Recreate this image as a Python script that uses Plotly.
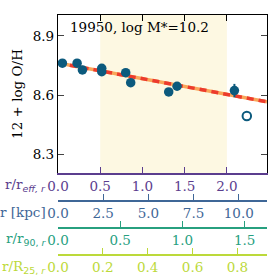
import plotly.graph_objects as go

# ---- data ----
r_reff = [0.052, 0.226, 0.289, 0.518, 0.518, 0.802, 0.861, 1.311, 1.410, 2.089]
oh = [8.762, 8.762, 8.728, 8.736, 8.719, 8.714, 8.663, 8.616, 8.645, 8.623]
oh_err = [0, 0, 0, 0, 0, 0, 0, 0, 0, 0.034]
open_r = [2.236]
open_oh = [8.494]
fit_intercept = 8.763
fit_slope = -0.0796
shade_range = [0.5, 2.0]
title_text = "19950, log M*=10.2"

x_max_reff = 2.475
x_max_kpc = 11.56
x_max_r90 = 1.68
x_max_r25 = 0.932
y_range = [8.205, 9.0065]

purple = "#5b3d8e"
blue = "#3f6797"
green = "#27a07f"
yellow = "#bcd93a"
point_col = "#0c5a7d"
font = "DejaVu Serif"
fs = 13.5

fig = go.Figure()

fit_x = [0, x_max_reff]
fit_y = [fit_intercept + fit_slope * v for v in fit_x]
fig.add_trace(go.Scatter(x=fit_x, y=fit_y, mode="lines",
                         line=dict(color="#f9a65a", width=3.5), hoverinfo="skip"))
fig.add_trace(go.Scatter(x=fit_x, y=fit_y, mode="lines",
                         line=dict(color="#ec3b2d", width=3.5, dash="7px,5px"), hoverinfo="skip"))
fig.add_trace(go.Scatter(x=r_reff, y=oh, mode="markers",
                         marker=dict(color=point_col, size=9.5),
                         error_y=dict(type="data", array=oh_err, color=point_col, thickness=2, width=0)))
fig.add_trace(go.Scatter(x=open_r, y=open_oh, mode="markers",
                         marker=dict(color="white", size=8.5, line=dict(color=point_col, width=2))))

# invisible traces to bind extra axes
for ax, mx in [("x2", x_max_kpc), ("x3", x_max_r90), ("x4", x_max_r25), ("x5", x_max_reff)]:
    fig.add_trace(go.Scatter(x=[0, mx], y=[y_range[0], y_range[0]], xaxis=ax, yaxis="y",
                             mode="markers", marker=dict(opacity=0), hoverinfo="skip"))

fig.add_shape(type="rect", xref="x", yref="y domain", x0=shade_range[0], x1=shade_range[1],
              y0=0, y1=1, fillcolor="#fdf8e2", line=dict(width=0), layer="below")

ydom_bottom = 0.3417
common = dict(showgrid=False, zeroline=False, ticks="inside", ticklen=6, tickwidth=1.3,
              showline=True, linewidth=1.5, tickformat=".1f", automargin=False)

fig.update_layout(
    width=277, height=277,
    margin=dict(l=58, r=10, t=15, b=22, autoexpand=False),
    paper_bgcolor="white", plot_bgcolor="white",
    showlegend=False,
    font=dict(family=font, size=fs, color="black"),
    xaxis=dict(range=[0, x_max_reff], dtick=0.5, tick0=0, linecolor=purple, tickcolor=purple,
               tickfont=dict(color=purple), anchor="y", **common),
    xaxis5=dict(range=[0, x_max_reff], dtick=0.5, tick0=0, overlaying="x", side="top",
                anchor="y", linecolor="black", tickcolor="black", showticklabels=False,
                showgrid=False, zeroline=False, ticks="inside", ticklen=6, tickwidth=1.3,
                showline=True, linewidth=1.3, automargin=False),
    xaxis2=dict(range=[0, x_max_kpc], dtick=2.5, tick0=0, overlaying="x", anchor="free",
                position=0.225, linecolor=blue, tickcolor=blue, tickfont=dict(color=blue), **common),
    xaxis3=dict(range=[0, x_max_r90], dtick=0.5, tick0=0, overlaying="x", anchor="free",
                position=0.114, linecolor=green, tickcolor=green, tickfont=dict(color=green), **common),
    xaxis4=dict(range=[0, x_max_r25], dtick=0.2, tick0=0, overlaying="x", anchor="free",
                position=0.0, linecolor=yellow, tickcolor=yellow, tickfont=dict(color=yellow), **common),
    yaxis=dict(range=y_range, domain=[ydom_bottom, 1], dtick=0.3, tick0=8.3, showgrid=False,
               zeroline=False, ticks="inside", ticklen=6, tickwidth=1.3, showline=True,
               linewidth=1.3, linecolor="black", mirror="ticks", tickformat=".1f",
               automargin=False,
               title=dict(text="12 + log O/H", standoff=6, font=dict(size=fs))),
)

def px_to_px(xpix):
    return (xpix - 58) / 208.7

def py_to_py(ypix):
    return (255 - ypix) / 240

fig.add_annotation(text=title_text, xref="paper", yref="paper", x=px_to_px(68), y=py_to_py(27),
                   xanchor="left", yanchor="middle", showarrow=False, font=dict(size=fs, color="black"))

sans = "<span style=\"font-family:'DejaVu Sans'\">"
labels = [
    ("r/r<sub>" + sans + "<i>eff, r</i></span></sub>", purple, 185),
    ("r [kpc]", blue, 211.5),
    ("r/r<sub>" + sans + "90, <i>r</i></span></sub>", green, 239),
    ("r/R<sub>" + sans + "25, <i>r</i></span></sub>", yellow, 266.5),
]
for txt, col, yp in labels:
    fig.add_annotation(text=txt, xref="paper", yref="paper", x=px_to_px(48), y=py_to_py(yp),
                       xanchor="right", yanchor="middle", showarrow=False,
                       font=dict(size=fs, color=col))

fig.write_html("out.html", config={"displayModeBar": False},
               post_script="document.body.style.margin='0';document.body.style.overflow='hidden';")
